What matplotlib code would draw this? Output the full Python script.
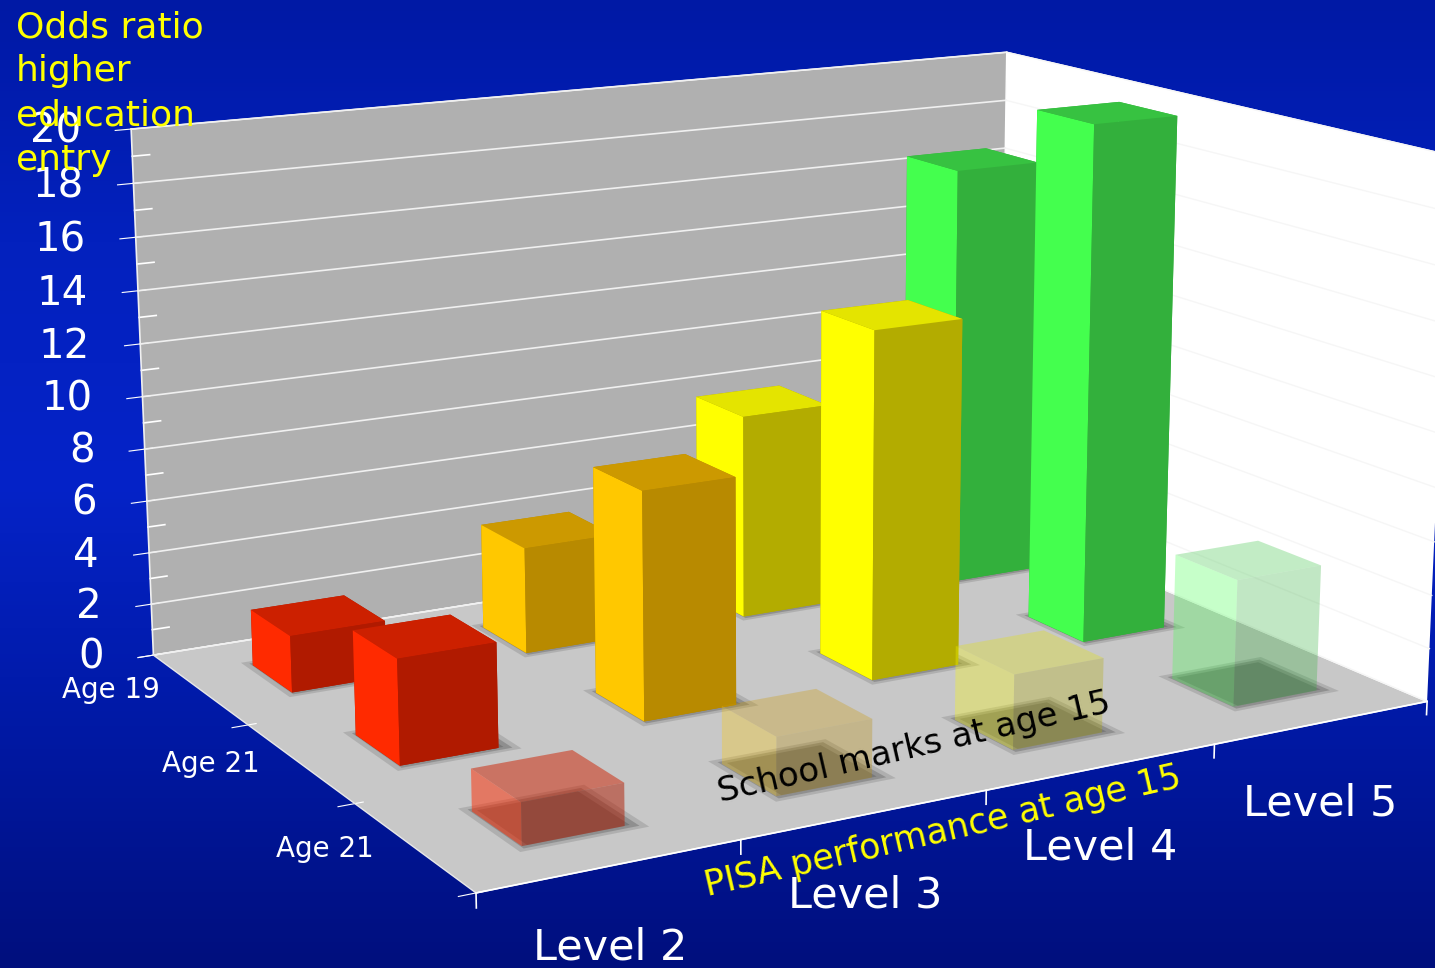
import numpy as np
import matplotlib
matplotlib.use('Agg')
import matplotlib.pyplot as plt
from matplotlib.colors import to_rgba
from mpl_toolkits.mplot3d import proj3d

# Data
levels = ['Level 2', 'Level 3', 'Level 4', 'Level 5']
rows = ['Age 21', 'Age 21', 'Age 19']
front_vals = [1.5, 2.1, 2.75, 4.75]      # see-through row
middle_vals = [3.85, 8.5, 13.2, 19.9]
back_vals = [2.15, 4.1, 8.0, 16.7]
z_major = list(range(0, 21, 2))
z_minor = list(range(1, 20, 2))
x_edges = [0, 1, 2, 3, 4]
y_edges = [0, 1, 2, 3]

W, H = 1435, 968

fig = plt.figure(figsize=(W / 100, H / 100), dpi=100)

# background
bg = fig.add_axes([0, 0, 1, 1], zorder=0)
stops = np.array([[0, 25, 165], [3, 33, 190], [5, 35, 200], [0, 25, 165], [0, 15, 125]]) / 255
g = np.stack([np.interp(np.linspace(0, 4, 256), range(5), stops[:, i]) for i in range(3)], axis=1)
bg.imshow(g[:, None, :], aspect='auto')
bg.axis('off')

# camera fitted to the corners of the box in the picture
ax = fig.add_axes([71.6 / W, -153.0 / H, 1375.4 / W, 1375.4 / H], projection='3d', zorder=1)
ax.patch.set_alpha(0)
ax.set_xlim(0, 4)
ax.set_ylim(0, 3)
ax.set_zlim(0, 20)
ax.view_init(elev=13.983, azim=-119.897)
ax.set_proj_type('persp', focal_length=0.502)
ax.set_box_aspect((1.898, 1.409, 1))

ax.computed_zorder = False
ax.xaxis.set_pane_color('#ffffff')
ax.yaxis.set_pane_color('#b0b0b0')
ax.zaxis.set_pane_color('#c8c8c8')
ax.grid(False)
ax.set_xticks(x_edges)
ax.set_yticks(y_edges)
ax.set_zticks(z_major)
ax.set_xticklabels([])
ax.set_yticklabels([])
ax.set_zticklabels([])
ax.tick_params(axis='z', colors='white')
ax.tick_params(axis='x', colors=(1, 1, 1, 0))
ax.tick_params(axis='y', colors='white')
for a in (ax.xaxis, ax.yaxis, ax.zaxis):
    a.line.set_color((1, 1, 1, 0))
    a.pane.set_edgecolor((1, 1, 1, 0))

# z labels, left of the wall edge
M = ax.get_proj()
for z in z_major:
    px, py, _ = proj3d.proj_transform(0, 3, z, M)
    ax.annotate(str(z), (px, py), xytext=(-36, -2), textcoords='offset points', fontsize=29,
                color='white', ha='right', va='center', annotation_clip=False, zorder=3)

# walls: grid and edges
for z in z_major:
    ax.plot([0, 4], [3, 3], [z, z], color='#f0f0f0', lw=1.2, zorder=1)
    ax.plot([4, 4], [3, 0], [z, z], color='#f6f6f6', lw=1, zorder=1)
for z in z_minor:
    ax.plot([0, 0.07], [3, 3], [z, z], color='white', lw=1.2, zorder=1)
ax.plot([0, 0], [3, 3], [0, 20], color='#f0f0f0', lw=1.2, zorder=1)
ax.plot([0, 4], [0, 0], [0, 0], color='white', lw=1.2, zorder=1)
ax.plot([0, 0], [0, 3], [0, 0], color='#e8e8e8', lw=1, zorder=1)
for x in x_edges:
    ax.plot([x, x], [0, 0], [0, -0.5], color='white', lw=1.2, zorder=1)

base_colors = ['#ff2a00', '#ffc800', '#ffff00', '#44ff4e']
top_colors = ['#cc2000', '#cc9900', '#e4e400', '#37c241']
side_colors = ['#b01a00', '#b88a00', '#b3ac00', '#33b03c']
front_alpha = [0.5, 0.3, 0.3, 0.3]
bw_x, bw_y = 0.395, 0.40
x_shift = {2: [-0.01, -0.01, -0.02, -0.005], 1: [0, 0, 0, -0.01], 0: [0.02, 0.02, 0.02, 0.02]}
y_shift = {2: -0.02, 1: -0.01, 0: 0.02}

for row, vals in ((2, back_vals), (1, middle_vals), (0, front_vals)):
    xs = np.arange(4) + 0.5 + np.array(x_shift[row])
    yc = row + 0.5 + y_shift[row]
    # soft shadow on the floor
    for grow, sa in ((0.05, 0.12), (0.025, 0.18), (0, 0.15)):
        ax.bar3d(xs - bw_x / 2 - grow + 0.02, np.full(4, yc - bw_y / 2 - grow), np.zeros(4),
                 bw_x + 2 * grow, bw_y + 2 * grow, 0.005,
                 color=[(0, 0, 0, sa if f == 1 else 0) for _ in range(4) for f in range(6)],
                 shade=False, zorder=2)
    for i in range(4):
        if row == 0:
            al = front_alpha[i]
            # only the faces you can see, or the layers pile up
            cols = [(0, 0, 0, 0), to_rgba(top_colors[i], al), to_rgba(side_colors[i], al),
                    (0, 0, 0, 0), to_rgba(base_colors[i], al), (0, 0, 0, 0)]
        else:
            cols = [side_colors[i], top_colors[i], side_colors[i], side_colors[i],
                    base_colors[i], side_colors[i]]
        ax.bar3d(xs[i] - bw_x / 2, yc - bw_y / 2, 0, bw_x, bw_y, vals[i], color=cols,
                 shade=False, zorder=10 + (2 - row) * 10)


def label(px, py, txt, size, color='white', rot=0):
    fig.text(px / W, 1 - py / H, txt, fontsize=size, color=color, rotation=rot,
             ha='center', va='center', rotation_mode='anchor', zorder=5)


for txt, (px, py) in zip(levels, [(610, 947), (865, 895), (1100, 848), (1320, 803)]):
    label(px, py, txt, 31)
for txt, (px, py) in zip(rows, [(325, 849), (211, 764), (111, 690)]):
    label(px, py, txt, 20)
label(914, 748, 'School marks at age 15', 24.5, 'black', 13)
label(943, 832, 'PISA performance at age 15', 25, '#ffff00', 13)
fig.text(16 / W, 1 - 10 / H, 'Odds ratio\nhigher\neducation\nentry', fontsize=26, color='#ffff00',
         va='top', ha='left', linespacing=1.38, zorder=5)

fig.savefig('out.png', dpi=100)
